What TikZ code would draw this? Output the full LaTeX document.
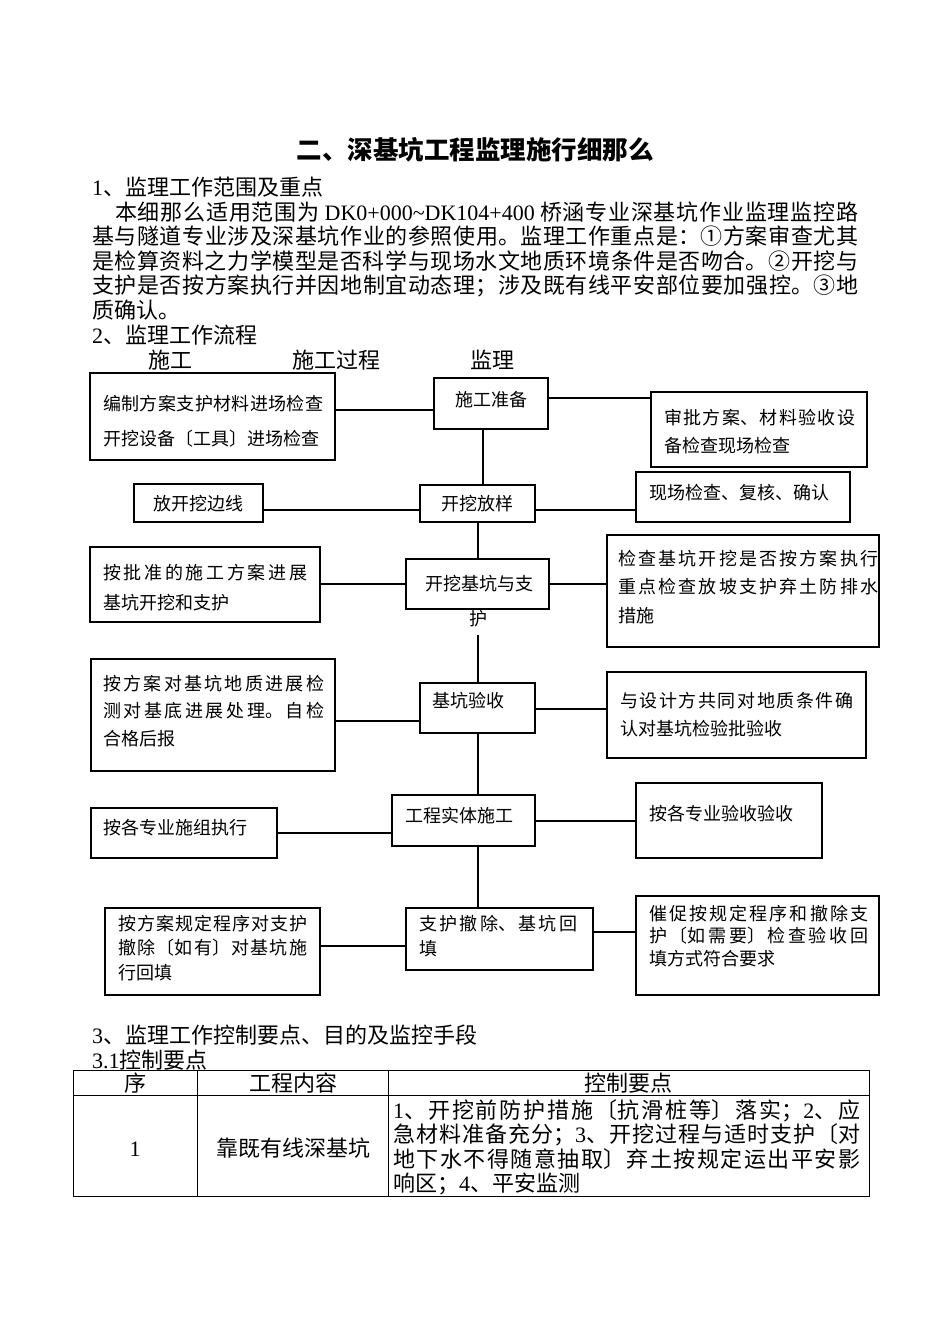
\documentclass[tikz,border=0pt]{standalone}
\usepackage{fontspec}
\setmainfont{Noto Sans CJK SC}
\newfontfamily\latf{Liberation Serif}
\newcommand\lt[1]{{\latf #1}}
\usetikzlibrary{fit}
\XeTeXlinebreaklocale "zh"
\XeTeXlinebreakskip=0pt plus 6pt
\begin{document}
\begin{tikzpicture}[x=1pt,y=-1pt]
\tikzset{
  box/.style={draw, line width=1.2pt, inner sep=0pt},
  conn/.style={line width=1.2pt},
  ftxt/.style 2 args={inner sep=0pt, anchor=base west, text width=#1, align=justify, font=\fontsize{18}{#2}\selectfont},
  fone/.style={inner sep=0pt, font=\fontsize{18}{18}\selectfont},
  btxt/.style={inner sep=0pt, font=\fontsize{22}{24.6}\selectfont},
  tline/.style={line width=1pt},
}
\fill[white] (0,0) rectangle (950,1344);
\useasboundingbox (0,0) rectangle (950,1344);

% ---------- header text ----------
\node[inner sep=0pt, anchor=base, font=\fontsize{25.5}{25.5}\selectfont\bfseries] (title) at (475,159) {二、深基坑工程监理施行细那么};
\node[btxt, anchor=base west] (h1) at (92,195) {\lt{1}、监理工作范围及重点};
\node[btxt, anchor=base west, text width=766pt, align=justify] (para) at (92,220) {\hspace*{23pt}本细那么适用范围为 \lt{DK0+000\textasciitilde DK104+400} 桥涵专业深基坑作业监理监控路\linebreak 基与隧道专业涉及深基坑作业的参照使用。监理工作重点是：①方案审查尤其\linebreak 是检算资料之力学模型是否科学与现场水文地质环境条件是否吻合。②开挖与\linebreak 支护是否按方案执行并因地制宜动态理；涉及既有线平安部位要加强控。③地\linebreak 质确认。};
\node[btxt, anchor=base west] (h2) at (92,343) {\lt{2}、监理工作流程};
\node[btxt, anchor=base] (col1) at (170,368) {施工};
\node[btxt, anchor=base] (col2) at (336,368) {施工过程};
\node[btxt, anchor=base] (col3) at (492,368) {监理};

% ---------- boxes ----------
\node[box, fit={(90,373) (335,460)}] (L1) {};
\node[box, fit={(434,378) (548,429)}] (C1) {};
\node[box, fit={(651,392) (867,467)}] (R1) {};
\node[box, fit={(134,484) (263,522)}] (L2) {};
\node[box, fit={(420,485) (535,522)}] (C2) {};
\node[box, fit={(636,472) (850,522)}] (R2) {};
\node[box, fit={(90,547) (320,622)}] (L3) {};
\node[box, fit={(406,559) (549,609)}] (C3) {};
\node[box, fit={(607,535) (879,647)}] (R3) {};
\node[box, fit={(91,659) (335,771)}] (L4) {};
\node[box, fit={(420,683) (535,733)}] (C4) {};
\node[box, fit={(607,672) (866,758)}] (R4) {};
\node[box, fit={(91,808) (277,858)}] (L5) {};
\node[box, fit={(392,795) (535,846)}] (C5) {};
\node[box, fit={(636,783) (822,858)}] (R5) {};
\node[box, fit={(105,908) (320,995)}] (L6) {};
\node[box, fit={(406,908) (593,970)}] (C6) {};
\node[box, fit={(636,896) (879,995)}] (R6) {};

% ---------- box texts ----------
\node[ftxt={220pt}{35pt}] (tL1) at (103,410) {编制方案支护材料进场检查\linebreak 开挖设备〔工具〕进场检查};
\node[fone, anchor=base] (tC1) at (491,406) {施工准备};
\node[ftxt={191pt}{28pt}] (tR1) at (664,424) {审批方案、材料验收设\linebreak 备检查现场检查};
\node[fone, anchor=base] (tL2) at (198,510) {放开挖边线};
\node[fone, anchor=base] (tC2) at (477,510) {开挖放样};
\node[fone, anchor=base west] (tR2) at (649,499) {现场检查、复核、确认};
\node[ftxt={204pt}{30pt}] (tL3) at (103,579) {按批准的施工方案进展\linebreak 基坑开挖和支护};
\node[fone, anchor=base] (tC3) at (479,590) {开挖基坑与支};
\node[ftxt={260pt}{28.5pt}] (tR3) at (618,565) {检查基坑开挖是否按方案执行\linebreak 重点检查放坡支护弃土防排水\linebreak 措施};
\node[ftxt={221pt}{27.5pt}] (tL4) at (103,690) {按方案对基坑地质进展检\linebreak 测对基底进展处理。自检\linebreak 合格后报};
\node[fone, anchor=base west] (tC4) at (432,707) {基坑验收};
\node[ftxt={233pt}{28pt}] (tR4) at (620,707) {与设计方共同对地质条件确\linebreak 认对基坑检验批验收};
\node[fone, anchor=base west] (tL5) at (103,834) {按各专业施组执行};
\node[fone, anchor=base west] (tC5) at (405,822) {工程实体施工};
\node[fone, anchor=base west] (tR5) at (649,820) {按各专业验收验收};
\node[ftxt={189pt}{24.5pt}] (tL6) at (118,930) {按方案规定程序对支护\linebreak 撤除〔如有〕对基坑施\linebreak 行回填};
\node[ftxt={158pt}{25pt}] (tC6) at (419,930) {支护撤除、基坑回\linebreak 填};
\node[ftxt={219pt}{22.5pt}] (tR6) at (649,920) {催促按规定程序和撤除支\linebreak 护〔如需要〕检查验收回\linebreak 填方式符合要求};
\node[fone, anchor=base, text depth=10pt] (hu) at (478,625) {护};

% ---------- connectors ----------
\coordinate (xa) at (483,0);
\coordinate (xt) at (478,0);
\coordinate (ya) at (0,410);
\coordinate (yb) at (0,398);
\coordinate (yc) at (0,510);
\coordinate (yd) at (0,584);
\coordinate (ye) at (0,721);
\coordinate (yf) at (0,709);
\coordinate (yg) at (0,833);
\coordinate (yh) at (0,821);
\coordinate (yi) at (0,946);
\coordinate (yj) at (0,932);

\draw[conn] (L1.east |- ya) -- (C1.west |- ya);
\draw[conn] (C1.east |- yb) -- (R1.west |- yb);
\draw[conn] (C1.south -| xa) -- (C2.north -| xa);
\draw[conn] (L2.east |- yc) -- (C2.west |- yc);
\draw[conn] (C2.east |- yc) -- (R2.west |- yc);
\draw[conn] (C2.south -| xt) -- (C3.north -| xt);
\draw[conn] (L3.east |- yd) -- (C3.west |- yd);
\draw[conn] (C3.east |- yd) -- (R3.west |- yd);
\draw[conn] (hu.south -| xt) -- (C4.north -| xt);
\draw[conn] (L4.east |- ye) -- (C4.west |- ye);
\draw[conn] (C4.east |- yf) -- (R4.west |- yf);
\draw[conn] (C4.south -| xt) -- (C5.north -| xt);
\draw[conn] (L5.east |- yg) -- (C5.west |- yg);
\draw[conn] (C5.east |- yh) -- (R5.west |- yh);
\draw[conn] (C5.south -| xt) -- (C6.north -| xt);
\draw[conn] (L6.east |- yi) -- (C6.west |- yi);
\draw[conn] (C6.east |- yj) -- (R6.west |- yj);

% ---------- section 3 ----------
\node[btxt, anchor=base west] (h3) at (92,1043) {\lt{3}、监理工作控制要点、目的及监控手段};
\node[btxt, anchor=base west] (h31) at (92,1068) {\lt{3.1}控制要点};

\draw[tline] (73,1070) rectangle (869,1196);
\draw[tline] (73,1095) -- (869,1095);
\draw[tline] (197,1070) -- (197,1196);
\draw[tline] (388,1070) -- (388,1196);

\node[btxt, anchor=base] (th1) at (135,1091) {序};
\node[btxt, anchor=base] (th2) at (293,1091) {工程内容};
\node[btxt, anchor=base] (th3) at (628,1091) {控制要点};
\node[btxt, anchor=base, font=\fontsize{22}{24.6}\latf] (td1) at (135,1156) {1};
\node[btxt, anchor=base] (td2) at (293,1156) {靠既有线深基坑};
\node[btxt, anchor=base west, text width=467pt, align=justify] (td3) at (393,1118) {\lt{1}、开挖前防护措施〔抗滑桩等〕落实；\lt{2}、应\linebreak 急材料准备充分；\lt{3}、开挖过程与适时支护〔对\linebreak 地下水不得随意抽取〕弃土按规定运出平安影\linebreak 响区；\lt{4}、平安监测};
\end{tikzpicture}
\end{document}
